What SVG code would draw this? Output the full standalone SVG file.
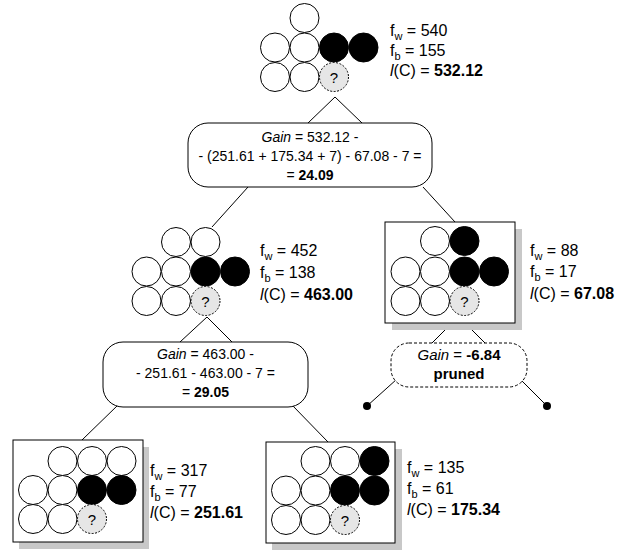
<svg xmlns="http://www.w3.org/2000/svg" width="621" height="552" viewBox="0 0 621 552">
<style>
text{font-family:"Liberation Sans",Arial,sans-serif;font-size:14px;fill:#000}
.nt{font-size:16px}
.w{fill:#fff;stroke:#000;stroke-width:1}
.b{fill:#000;stroke:#000;stroke-width:1}
.q{fill:#e6e6e6;stroke:#000;stroke-width:1;stroke-dasharray:2,1.5}
.qt{font-size:15px;text-anchor:middle}
.box{fill:#fff;stroke:#000;stroke-width:1}
.sh{fill:#c8c8c8}
.gain{fill:#fff;stroke:#000;stroke-width:1}
.pr{fill:#fff;stroke:#000;stroke-width:1;stroke-dasharray:3,2}
.c{text-anchor:middle}
.pt{font-size:15px}
.sub{font-size:11px}
.bd{font-weight:bold}
.it{font-style:italic}
line{stroke:#000;stroke-width:1}
</style>
<g id="connectors">
<line x1="335" y1="97" x2="308" y2="123"/>
<line x1="335" y1="97" x2="362" y2="123"/>
<line x1="248" y1="187" x2="212" y2="227"/>
<line x1="423" y1="187" x2="455" y2="222"/>
<line x1="207" y1="317" x2="180" y2="342"/>
<line x1="207" y1="317" x2="232" y2="342"/>
<line x1="445" y1="330" x2="432" y2="343"/>
<line x1="472" y1="330" x2="485" y2="343"/>
<line x1="397" y1="379" x2="367" y2="406"/>
<line x1="520" y1="379" x2="547" y2="406"/>
<circle cx="367" cy="406" r="4" fill="#000"/>
<circle cx="547" cy="406" r="4" fill="#000"/>
<line x1="118" y1="405" x2="82" y2="440"/>
<line x1="292" y1="405" x2="328" y2="442"/>
</g>
<g id="node-root">
<circle class="w" cx="304.5" cy="18" r="14.5"/>
<circle class="w" cx="275" cy="47.5" r="14.5"/>
<circle class="w" cx="304.5" cy="47.5" r="14.5"/>
<circle class="b" cx="334" cy="47.5" r="14.5"/>
<circle class="b" cx="363.5" cy="47.5" r="14.5"/>
<circle class="w" cx="275" cy="77" r="14.5"/>
<circle class="w" cx="304.5" cy="77" r="14.5"/>
<circle class="q" cx="334" cy="77" r="14.5"/>
<text class="qt" x="334" y="82.5">?</text>
<text class="nt" x="390" y="36">f<tspan class="sub" dy="4">w</tspan><tspan dy="-4"> = 540</tspan></text>
<text class="nt" x="390" y="56">f<tspan class="sub" dy="4">b</tspan><tspan dy="-4"> = 155</tspan></text>
<text class="nt" x="390" y="76"><tspan class="it">l</tspan>(C) = <tspan class="bd">532.12</tspan></text>
</g>
<g id="gain-root">
<rect class="gain" x="188" y="123" width="244" height="64" rx="20" ry="20"/>
<text class="c" x="310" y="142"><tspan class="it">Gain</tspan> = 532.12 -</text>
<text class="c" x="310" y="161">- (251.61 + 175.34 + 7) - 67.08 - 7 =</text>
<text class="c" x="310" y="180">= <tspan class="bd">24.09</tspan></text>
</g>
<g id="node-left">
<circle class="w" cx="176" cy="242" r="14.5"/>
<circle class="w" cx="205.5" cy="242" r="14.5"/>
<circle class="w" cx="146.5" cy="271.5" r="14.5"/>
<circle class="w" cx="176" cy="271.5" r="14.5"/>
<circle class="b" cx="205.5" cy="271.5" r="14.5"/>
<circle class="b" cx="235" cy="271.5" r="14.5"/>
<circle class="w" cx="146.5" cy="301" r="14.5"/>
<circle class="w" cx="176" cy="301" r="14.5"/>
<circle class="q" cx="205.5" cy="301" r="14.5"/>
<text class="qt" x="205.5" y="306.5">?</text>
<text class="nt" x="260" y="256">f<tspan class="sub" dy="4">w</tspan><tspan dy="-4"> = 452</tspan></text>
<text class="nt" x="260" y="278">f<tspan class="sub" dy="4">b</tspan><tspan dy="-4"> = 138</tspan></text>
<text class="nt" x="260" y="300"><tspan class="it">l</tspan>(C) = <tspan class="bd">463.00</tspan></text>
</g>
<g id="node-right">
<rect class="sh" x="392" y="229" width="130" height="101"/>
<rect class="box" x="385" y="222" width="130" height="101"/>
<circle class="w" cx="435" cy="241" r="14.5"/>
<circle class="b" cx="464.5" cy="241" r="14.5"/>
<circle class="w" cx="405.5" cy="271.5" r="14.5"/>
<circle class="w" cx="435" cy="271.5" r="14.5"/>
<circle class="b" cx="464.5" cy="271.5" r="14.5"/>
<circle class="b" cx="494" cy="271.5" r="14.5"/>
<circle class="w" cx="405.5" cy="301" r="14.5"/>
<circle class="w" cx="435" cy="301" r="14.5"/>
<circle class="q" cx="464.5" cy="301" r="14.5"/>
<text class="qt" x="464.5" y="306.5">?</text>
<text class="nt" x="530" y="256">f<tspan class="sub" dy="4">w</tspan><tspan dy="-4"> = 88</tspan></text>
<text class="nt" x="530" y="277">f<tspan class="sub" dy="4">b</tspan><tspan dy="-4"> = 17</tspan></text>
<text class="nt" x="530" y="299"><tspan class="it">l</tspan>(C) = <tspan class="bd">67.08</tspan></text>
</g>
<g id="pruned">
<rect class="pr" x="391" y="343" width="136" height="44" rx="18" ry="18"/>
<text class="c pt" x="459" y="360"><tspan class="it">Gain</tspan> = <tspan class="bd">-6.84</tspan></text>
<text class="c pt bd" x="459" y="379">pruned</text>
</g>
<g id="gain-left">
<rect class="gain" x="103" y="342" width="205" height="65" rx="20" ry="20"/>
<text class="c" x="205.5" y="359"><tspan class="it">Gain</tspan> = 463.00 -</text>
<text class="c" x="205.5" y="378">- 251.61 - 463.00 - 7 =</text>
<text class="c" x="205.5" y="397">= <tspan class="bd">29.05</tspan></text>
</g>
<g id="node-bl">
<rect class="sh" x="19" y="447" width="130" height="102"/>
<rect class="box" x="13" y="440" width="130" height="102"/>
<circle class="w" cx="62.5" cy="461" r="14.5"/>
<circle class="w" cx="92" cy="461" r="14.5"/>
<circle class="w" cx="121.5" cy="461" r="14.5"/>
<circle class="w" cx="33" cy="490" r="14.5"/>
<circle class="w" cx="62.5" cy="490" r="14.5"/>
<circle class="b" cx="92" cy="490" r="14.5"/>
<circle class="b" cx="121.5" cy="490" r="14.5"/>
<circle class="w" cx="33" cy="519" r="14.5"/>
<circle class="w" cx="62.5" cy="519" r="14.5"/>
<circle class="q" cx="92" cy="519" r="14.5"/>
<text class="qt" x="92" y="524.5">?</text>
<text class="nt" x="150" y="476">f<tspan class="sub" dy="4">w</tspan><tspan dy="-4"> = 317</tspan></text>
<text class="nt" x="150" y="497">f<tspan class="sub" dy="4">b</tspan><tspan dy="-4"> = 77</tspan></text>
<text class="nt" x="150" y="518"><tspan class="it">l</tspan>(C) = <tspan class="bd">251.61</tspan></text>
</g>
<g id="node-br">
<rect class="sh" x="272" y="449" width="130" height="101"/>
<rect class="box" x="266" y="442" width="129" height="101"/>
<circle class="w" cx="315.5" cy="461" r="14.5"/>
<circle class="w" cx="345" cy="461" r="14.5"/>
<circle class="b" cx="374.5" cy="461" r="14.5"/>
<circle class="w" cx="286" cy="490.5" r="14.5"/>
<circle class="w" cx="315.5" cy="490.5" r="14.5"/>
<circle class="b" cx="345" cy="490.5" r="14.5"/>
<circle class="b" cx="374.5" cy="490.5" r="14.5"/>
<circle class="w" cx="286" cy="520" r="14.5"/>
<circle class="w" cx="315.5" cy="520" r="14.5"/>
<circle class="q" cx="345" cy="520" r="14.5"/>
<text class="qt" x="345" y="525.5">?</text>
<text class="nt" x="407" y="473">f<tspan class="sub" dy="4">w</tspan><tspan dy="-4"> = 135</tspan></text>
<text class="nt" x="407" y="494">f<tspan class="sub" dy="4">b</tspan><tspan dy="-4"> = 61</tspan></text>
<text class="nt" x="407" y="515"><tspan class="it">l</tspan>(C) = <tspan class="bd">175.34</tspan></text>
</g>
</svg>
